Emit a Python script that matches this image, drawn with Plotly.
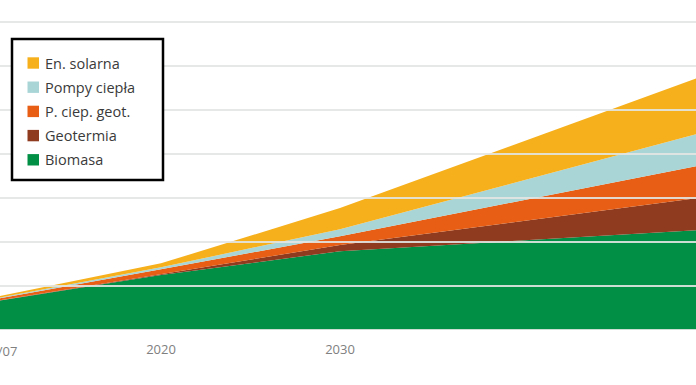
import plotly.graph_objects as go

# Data (units: one gridline step = 100)
years = [2007, 2020, 2030, 2050]
biomasa = [41, 125, 179, 227]
geotermia = [0.5, 3, 14, 73]
p_ciep_geot = [1.5, 10, 20, 73]
pompy_ciepla = [0.5, 4.5, 16, 73]
en_solarna = [0.5, 9, 48, 127]

series_names = ["Biomasa", "Geotermia", "P. ciep. geot.", "Pompy ciepła", "En. solarna"]
series_values = [biomasa, geotermia, p_ciep_geot, pompy_ciepla, en_solarna]
series_colors = ["#008F45", "#8E3B1F", "#E75E14", "#A9D5D7", "#F6B01C"]

tick_years = [2020, 2030]
tick_labels = ["2020", "2030"]
first_label = "2006/07"

W, H = 696, 385
PLOT_H = 330  # plot area height in px


def px_x(px):
    return px / W


def px_y(py):
    return (PLOT_H - py) / PLOT_H


fig = go.Figure()
for name, vals, col in zip(series_names, series_values, series_colors):
    fig.add_trace(go.Scatter(
        x=years, y=vals, name=name, stackgroup="one", mode="lines",
        line=dict(width=0, color=col), fillcolor=col, showlegend=False,
        hoverinfo="skip",
    ))

# gridlines drawn above the areas
for v in range(0, 800, 100):
    fig.add_shape(type="line", xref="paper", x0=0, x1=1, yref="y", y0=v, y1=v,
                  line=dict(color="rgba(226,229,227,0.9)", width=2), layer="above")

# legend box (top-to-bottom: reverse of stack order)
fig.add_shape(type="rect", xref="paper", yref="paper",
              x0=px_x(12), x1=px_x(163), y0=px_y(39), y1=px_y(180),
              line=dict(color="black", width=2.5), fillcolor="white", layer="above")
legend_items = list(reversed(list(zip(series_names, series_colors))))
for i, (name, col) in enumerate(legend_items):
    cy = 63 + 24.2 * i
    fig.add_shape(type="rect", xref="paper", yref="paper",
                  x0=px_x(27.5), x1=px_x(39), y0=px_y(cy - 5.7), y1=px_y(cy + 5.7),
                  line=dict(width=0), fillcolor=col, layer="above")
    fig.add_annotation(text=name, xref="paper", yref="paper",
                       x=px_x(43), y=px_y(cy), xanchor="left", yanchor="middle",
                       showarrow=False,
                       font=dict(family="Open Sans", size=14.5, color="#3a3a3a"))

fig.add_annotation(text=first_label, xref="paper", yref="paper",
                   x=px_x(19), y=px_y(351), xanchor="right", yanchor="middle",
                   showarrow=False, font=dict(family="Open Sans", size=13, color="#808080"))

fig.update_layout(
    width=W, height=H,
    margin=dict(l=0, r=0, t=0, b=H - PLOT_H),
    paper_bgcolor="white", plot_bgcolor="white",
    showlegend=False,
    xaxis=dict(range=[2011.006, 2049.888], showgrid=False, zeroline=False,
               tickmode="array", tickvals=tick_years, ticktext=tick_labels,
               ticks="", showline=False, ticklabelstandoff=10,
               tickfont=dict(family="Open Sans", size=13, color="#808080")),
    yaxis=dict(range=[0, 750], showgrid=False, zeroline=False,
               showticklabels=False, ticks="", showline=False),
)

fig.write_html("out.html", config={"displayModeBar": False},
               post_script="document.body.style.margin='0';document.body.style.overflow='hidden';")
